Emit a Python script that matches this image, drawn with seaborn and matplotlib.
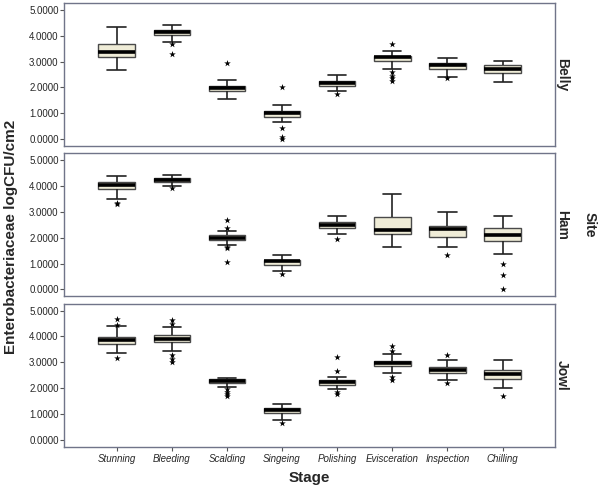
import pandas as pd
import seaborn as sns
import matplotlib.pyplot as plt

# categories
stages = ["Stunning", "Bleeding", "Scalding", "Singeing",
          "Polishing", "Evisceration", "Inspection", "Chilling"]
sites = ["Belly", "Ham", "Jowl"]

# five-number summaries per stage: whisker low, Q1, median, Q3, whisker high
belly_box = [[2.68, 3.16, 3.39, 3.67, 4.34],
             [3.76, 4.02, 4.15, 4.24, 4.41],
             [1.57, 1.86, 1.97, 2.06, 2.29],
             [0.66, 0.86, 1.00, 1.08, 1.34],
             [1.87, 2.07, 2.18, 2.26, 2.47],
             [2.71, 3.02, 3.16, 3.23, 3.40],
             [2.41, 2.71, 2.86, 2.94, 3.14],
             [2.23, 2.56, 2.72, 2.86, 3.03]]
ham_box = [[3.51, 3.90, 4.05, 4.16, 4.38],
           [4.01, 4.15, 4.23, 4.30, 4.42],
           [1.71, 1.92, 2.01, 2.10, 2.26],
           [0.70, 0.95, 1.12, 1.16, 1.34],
           [2.16, 2.38, 2.51, 2.62, 2.84],
           [1.66, 2.16, 2.32, 2.82, 3.69],
           [1.66, 2.05, 2.33, 2.46, 2.98],
           [1.37, 1.86, 2.09, 2.37, 2.84]]
jowl_box = [[3.35, 3.72, 3.86, 3.99, 4.40],
            [3.45, 3.78, 3.91, 4.04, 4.35],
            [2.03, 2.19, 2.27, 2.35, 2.41],
            [0.76, 1.04, 1.15, 1.24, 1.38],
            [1.96, 2.14, 2.22, 2.31, 2.42],
            [2.58, 2.86, 2.97, 3.06, 3.33],
            [2.33, 2.60, 2.72, 2.83, 3.10],
            [1.99, 2.37, 2.54, 2.71, 3.10]]

# extreme values (stars) per stage
belly_out = [[], [3.67, 3.29], [2.94], [2.00, 0.45, 0.10, 0.02],
             [1.73], [3.67, 2.58, 2.45, 2.36, 2.26], [2.35], []]
ham_out = [[3.33, 3.30], [3.92], [2.69, 2.36, 1.66, 1.62, 1.07], [0.61],
           [1.97], [], [1.35], [0.97, 0.57, 0.0]]
jowl_out = [[4.68, 4.46, 3.18], [4.65, 4.50, 3.29, 3.14, 3.01],
            [1.96, 1.86, 1.77, 1.71], [0.67], [3.22, 2.67, 1.87, 1.79],
            [3.63, 3.44, 2.45, 2.31], [3.28, 2.19], [1.71]]

yticks = [0, 1, 2, 3, 4, 5]

boxes = {"Belly": belly_box, "Ham": ham_box, "Jowl": jowl_box}
outs = {"Belly": belly_out, "Ham": ham_out, "Jowl": jowl_out}

sns.set_style("white")
plt.rcParams['font.family'] = ['Liberation Sans', 'DejaVu Sans']

fig, axes = plt.subplots(3, 1, figsize=(6, 4.91), dpi=100, sharex=True)
fig.subplots_adjust(left=0.107, right=0.925, top=0.994, bottom=0.09, hspace=0.05)

frame = "#707489"

for ax, site in zip(axes, sites):
    rows = [(st, v) for st, vals in zip(stages, boxes[site]) for v in vals]
    df = pd.DataFrame(rows, columns=["stage", "value"])
    sns.boxplot(data=df, x="stage", y="value", order=stages, whis=(0, 100),
                width=0.66, color="#F3EFD3", linecolor="#4a4a4a", linewidth=1,
                medianprops=dict(color="black", linewidth=2.6),
                whiskerprops=dict(color="#222222", linewidth=1.2),
                capprops=dict(color="#222222", linewidth=1.2), ax=ax)
    orows = [(st, v) for st, vals in zip(stages, outs[site]) for v in vals]
    odf = pd.DataFrame(orows, columns=["stage", "value"])
    sns.stripplot(data=odf, x="stage", y="value", order=stages, jitter=False,
                  marker="*", size=5, color="black", linewidth=0, ax=ax)

    ax.set_xlim(-0.95, 7.95)
    ax.set_ylim(-0.27, 5.27)
    ax.set_yticks(yticks)
    ax.set_yticklabels([f"{t:.4f}" for t in yticks], fontsize=7)
    ax.set_ylabel("")
    ax.set_xlabel("")
    for s in ax.spines.values():
        s.set_color(frame)
        s.set_linewidth(1)
    ax.tick_params(axis="y", left=True, length=3, width=0.8, color="#555555", pad=1)
    ax.tick_params(axis="x", bottom=False)
    ax.text(1.014, 0.5, site, transform=ax.transAxes, rotation=-90,
            ha="center", va="center", fontsize=10, fontweight="bold")

axes[1].text(1.071, 0.5, "Site", transform=axes[1].transAxes, rotation=-90,
             ha="center", va="center", fontsize=10, fontweight="bold")

axes[2].tick_params(axis="x", bottom=True, length=3, width=0.8, color="#555555", pad=2)
axes[2].set_xticks(range(len(stages)))
axes[2].set_xticklabels(stages, fontsize=7, style="italic")
axes[2].set_xlabel("Stage", fontsize=11, fontweight="bold", labelpad=5)

fig.text(0.018, 0.517, "Enterobacteriaceae logCFU/cm2", rotation=90,
         ha="center", va="center", fontsize=11, fontweight="bold")

fig.savefig("out.png", dpi=100)
